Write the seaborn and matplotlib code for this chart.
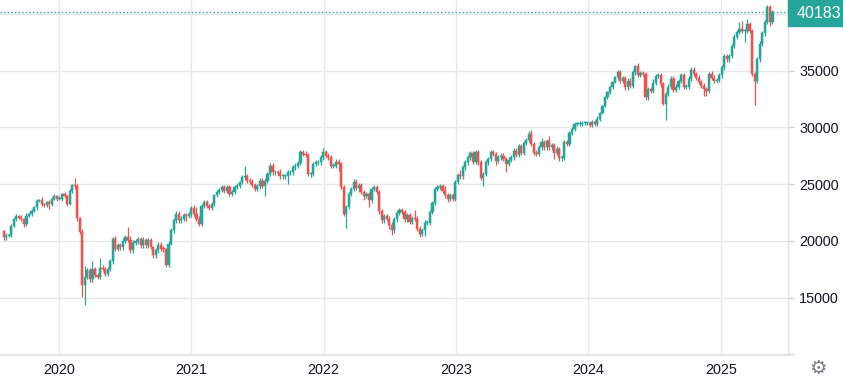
import numpy as np
import pandas as pd
import matplotlib
matplotlib.use("Agg")
import matplotlib.pyplot as plt
from matplotlib.patches import Rectangle
import seaborn as sns

# ---------------- data (weekly candles) ----------------
start_date = "2019-08-02"
first_open = 20900
last_price = 40183

# weekly closes, in thousands of points
close_k = [
    20.32, 20.47, 20.53, 21.29, 21.93, 22.16, 22.05, 21.93, 21.49, 22.22,
    22.37, 22.66, 22.95, 23.54, 23.63, 23.25, 23.20, 23.39, 23.25, 23.74,
    23.98, 23.68, 23.74, 24.12, 23.98, 23.25, 24.42, 24.94, 24.80, 21.99,
    20.82, 16.08, 16.81, 17.40, 16.61, 17.54, 17.02, 16.81, 17.66, 17.54,
    17.11, 17.54, 18.19, 20.18, 19.30, 19.65, 19.44, 20.03, 20.32, 20.12,
    19.18, 19.85, 19.97, 20.15, 19.62, 20.06, 19.62, 20.06, 19.47, 18.74,
    19.18, 19.68, 19.33, 19.27, 17.92, 19.77, 20.94, 21.81, 22.40, 21.81,
    21.96, 22.25, 22.19, 22.34, 22.89, 22.40, 21.96, 21.52, 23.07, 23.42,
    23.07, 22.89, 23.27, 24.06, 24.30, 24.53, 24.74, 24.44, 24.74, 24.15,
    24.30, 24.74, 24.88, 25.18, 25.61, 25.70, 25.32, 25.23, 24.94, 24.62,
    24.80, 25.32, 24.88, 25.32, 25.91, 26.64, 26.05, 26.05, 25.96, 25.70,
    25.70, 25.70, 26.05, 26.05, 26.49, 26.64, 26.87, 27.81, 27.66, 27.57,
    25.91, 25.91, 26.78, 26.93, 26.93, 27.37, 27.81, 27.52, 27.37, 26.64,
    26.64, 26.99, 26.75, 24.74, 22.40, 22.98, 24.15, 24.59, 25.23, 24.65,
    24.94, 24.30, 23.95, 24.15, 23.57, 24.59, 24.74, 24.30, 22.60, 21.81,
    22.19, 21.96, 21.43, 20.94, 21.90, 22.49, 22.69, 22.54, 21.90, 22.25,
    21.70, 22.02, 21.96, 21.08, 20.64, 20.94, 21.61, 21.61, 22.54, 23.36,
    24.59, 24.74, 24.82, 24.44, 24.01, 23.71, 24.06, 23.71, 25.18, 25.82,
    25.70, 26.49, 26.93, 27.37, 27.75, 26.99, 27.81, 26.93, 25.53, 25.91,
    26.93, 27.22, 27.81, 27.66, 27.08, 27.37, 27.51, 27.22, 26.78, 27.16,
    27.37, 27.95, 27.57, 28.33, 27.79, 28.62, 28.91, 29.47, 28.53, 27.79,
    27.65, 28.24, 28.68, 28.24, 28.82, 28.24, 28.44, 27.79, 28.09, 27.35,
    27.35, 28.68, 28.53, 29.50, 29.85, 30.29, 30.29, 30.29, 30.38, 30.38,
    30.38, 30.21, 30.44, 30.29, 30.79, 31.26, 31.91, 32.65, 33.09, 33.53,
    34.03, 34.41, 34.85, 34.12, 34.32, 33.53, 34.12, 33.68, 34.85, 35.44,
    34.62, 34.76, 34.71, 32.65, 33.38, 33.20, 33.95, 34.53, 34.60, 33.81,
    32.06, 32.94, 33.60, 34.30, 33.30, 33.60, 34.10, 34.60, 33.60, 33.60,
    34.30, 35.10, 34.70, 34.40, 34.00, 33.70, 33.40, 33.20, 34.70, 34.40,
    34.10, 34.20, 34.60, 35.30, 36.30, 36.00, 36.30, 37.20, 38.00, 38.40,
    38.70, 38.50, 38.50, 39.10, 38.50, 34.70, 34.10, 36.00, 37.40, 38.30,
    39.30, 40.60, 39.30, 40.183,
]

# upper / lower wick lengths beyond the body, in hundreds of points
up_wick_h = [
    1, 2, 1, 2, 1, 2, 1, 2, 1, 2,
    1, 2, 1, 2, 1, 2, 1, 1, 2, 1,
    2, 1, 2, 1, 2, 1, 2, 1, 6, 2,
    1, 2, 10, 2, 2, 7, 2, 2, 8, 2,
    2, 2, 2, 2, 3, 2, 2, 2, 2, 9,
    3, 2, 2, 2, 2, 3, 2, 2, 2, 1,
    2, 2, 2, 2, 1, 2, 2, 2, 2, 2,
    2, 2, 2, 2, 2, 3, 6, 2, 2, 2,
    2, 2, 2, 1, 2, 1, 2, 2, 2, 2,
    2, 2, 2, 1, 2, 9, 2, 2, 2, 2,
    2, 2, 2, 2, 2, 2, 2, 2, 2, 4,
    2, 2, 2, 2, 2, 2, 2, 2, 2, 3,
    2, 2, 2, 2, 2, 2, 4, 2, 2, 2,
    2, 2, 2, 2, 2, 2, 2, 2, 2, 2,
    2, 2, 2, 2, 2, 2, 2, 2, 2, 2,
    2, 2, 2, 2, 2, 2, 2, 2, 2, 2,
    2, 2, 7, 2, 2, 2, 2, 2, 2, 2,
    2, 2, 2, 2, 4, 2, 2, 2, 2, 2,
    4, 2, 2, 2, 2, 2, 2, 2, 2, 2,
    2, 2, 2, 2, 2, 2, 2, 2, 2, 2,
    2, 2, 2, 2, 2, 2, 2, 2, 3, 2,
    2, 2, 4, 2, 2, 4, 2, 2, 3, 2,
    2, 2, 2, 2, 2, 2, 2, 3, 2, 2,
    2, 2, 2, 2, 2, 1, 1, 1, 1, 1,
    1, 1, 2, 2, 2, 2, 2, 2, 2, 1,
    2, 2, 2, 2, 2, 2, 3, 2, 2, 2,
    2, 2, 2, 2, 2, 2, 2, 2, 2, 2,
    2, 2, 2, 2, 2, 2, 2, 2, 2, 3,
    2, 2, 2, 2, 2, 2, 2, 2, 2, 2,
    6, 7, 2, 5, 2, 2, 2, 2, 2, 2,
    2, 2, 2, 2,
]
dn_wick_h = [
    2, 2, 1, 2, 1, 2, 1, 2, 3, 2,
    1, 2, 1, 2, 1, 2, 2, 2, 4, 2,
    1, 2, 1, 2, 2, 2, 1, 2, 2, 2,
    2, 10, 17, 2, 2, 2, 2, 2, 2, 2,
    2, 2, 2, 2, 2, 2, 2, 2, 2, 2,
    2, 2, 2, 2, 2, 2, 2, 2, 2, 2,
    2, 2, 2, 2, 2, 2, 1, 2, 2, 2,
    2, 2, 4, 2, 2, 2, 2, 2, 2, 2,
    2, 2, 2, 2, 2, 2, 2, 2, 2, 2,
    2, 2, 2, 2, 2, 2, 2, 2, 2, 2,
    2, 2, 2, 9, 2, 2, 2, 2, 2, 2,
    2, 2, 7, 2, 2, 2, 2, 2, 2, 2,
    2, 3, 2, 2, 2, 2, 2, 2, 2, 2,
    2, 2, 6, 2, 2, 13, 2, 2, 2, 2,
    3, 2, 3, 2, 6, 2, 2, 2, 2, 2,
    2, 2, 4, 4, 2, 2, 2, 2, 2, 2,
    2, 2, 2, 2, 3, 2, 5, 2, 2, 2,
    2, 2, 2, 2, 2, 3, 2, 2, 2, 2,
    2, 2, 2, 2, 2, 2, 2, 2, 2, 7,
    2, 2, 2, 2, 4, 2, 2, 2, 7, 2,
    2, 2, 2, 2, 2, 2, 2, 2, 2, 2,
    2, 2, 2, 2, 2, 2, 2, 6, 2, 3,
    3, 2, 2, 2, 2, 2, 2, 2, 2, 2,
    2, 2, 2, 2, 2, 2, 1, 1, 1, 1,
    1, 1, 1, 2, 2, 2, 2, 2, 2, 2,
    2, 2, 2, 2, 2, 2, 2, 2, 2, 2,
    1, 14, 2, 2, 2, 2, 2, 2, 2, 2,
    2, 2, 2, 2, 2, 2, 6, 4, 2, 2,
    2, 2, 2, 2, 2, 2, 2, 2, 2, 2,
    2, 2, 10, 2, 2, 2, 21, 2, 2, 2,
    2, 2, 4, 2,
]

y_ticks = [10000, 15000, 20000, 25000, 30000, 35000, 40000]
y_tick_labels = ["", "15000", "20000", "25000", "30000", "35000", ""]
year_labels = ["2020", "2021", "2022", "2023", "2024", "2025"]

# ---------------- build table ----------------
close = np.array(close_k) * 1000.0
open_ = np.concatenate([[first_open], close[:-1]])
high = np.maximum(open_, close) + np.array(up_wick_h) * 100.0
low = np.minimum(open_, close) - np.array(dn_wick_h) * 100.0
dates = pd.date_range(start_date, periods=len(close), freq="7D")
df = pd.DataFrame({"date": dates, "open": open_, "high": high,
                   "low": low, "close": close})
UP, DOWN = "#26a69a", "#ef5350"
df["color"] = np.where(df["close"] >= df["open"], UP, DOWN)

# ---------------- style ----------------
sns.set_theme(style="white")
plt.rcParams["font.family"] = ["Liberation Sans", "DejaVu Sans"]

W, H = 843, 377
fig = plt.figure(figsize=(W / 100, H / 100), dpi=100)
ax_right = 788
ax_bottom = 355
ax = fig.add_axes([0, 1 - ax_bottom / H, ax_right / W, ax_bottom / H])

grid_c = "#e8e8e8"
for yt in y_ticks:
    ax.axhline(yt, color=grid_c, lw=1, zorder=0)
for yl in year_labels:
    ax.axvline(pd.Timestamp(f"{yl}-01-01"), color=grid_c, lw=1, zorder=0)

# wicks
ax.vlines(df["date"], df["low"], df["high"], colors=df["color"], lw=0.9, zorder=2)
# bodies
body_lo = np.minimum(df["open"], df["close"])
body_h = np.maximum(np.abs(df["close"] - df["open"]), 70)
ax.bar(df["date"], body_h, bottom=body_lo, width=6.0, color=df["color"],
       edgecolor=df["color"], linewidth=0.35, zorder=3)

# last price dotted line
ax.axhline(last_price, color=UP, lw=1, linestyle=(0, (1, 1.6)), zorder=4)

ax.set_ylim(9950, 41235)
ax.set_xlim(pd.Timestamp("2019-07-23"), pd.Timestamp("2025-07-05"))

ax.yaxis.tick_right()
ax.set_yticks(y_ticks)
ax.set_yticklabels(y_tick_labels)
ax.set_xticks([pd.Timestamp(f"{y}-01-01") for y in year_labels])
ax.set_xticklabels(year_labels)
ax.tick_params(axis="y", which="both", right=True, left=False, length=4,
               width=1, color="#d1d4dc", pad=4, labelsize=10.4,
               labelcolor="#131722")
ax.tick_params(axis="x", length=0, pad=6, labelsize=10.4, labelcolor="#131722")
for s in ["top", "left"]:
    ax.spines[s].set_visible(False)
for s in ["right", "bottom"]:
    ax.spines[s].set_color("#e0e3eb")
    ax.spines[s].set_linewidth(1)

# last-price tag
fig.patches.append(Rectangle((ax_right / W, 1 - 26 / H), 1 - ax_right / W, 26 / H,
                             transform=fig.transFigure, color=UP, zorder=5))
fig.text(819 / W, 1 - 14 / H, f"{last_price}", color="white", fontsize=11.5,
         ha="center", va="center", zorder=6)

# settings gear
fig.text(818 / W, 1 - 368 / H, "\u2699", color="#787b86", fontsize=14,
         ha="center", va="center", family=["DejaVu Sans"])

fig.savefig("out.png", dpi=100)
